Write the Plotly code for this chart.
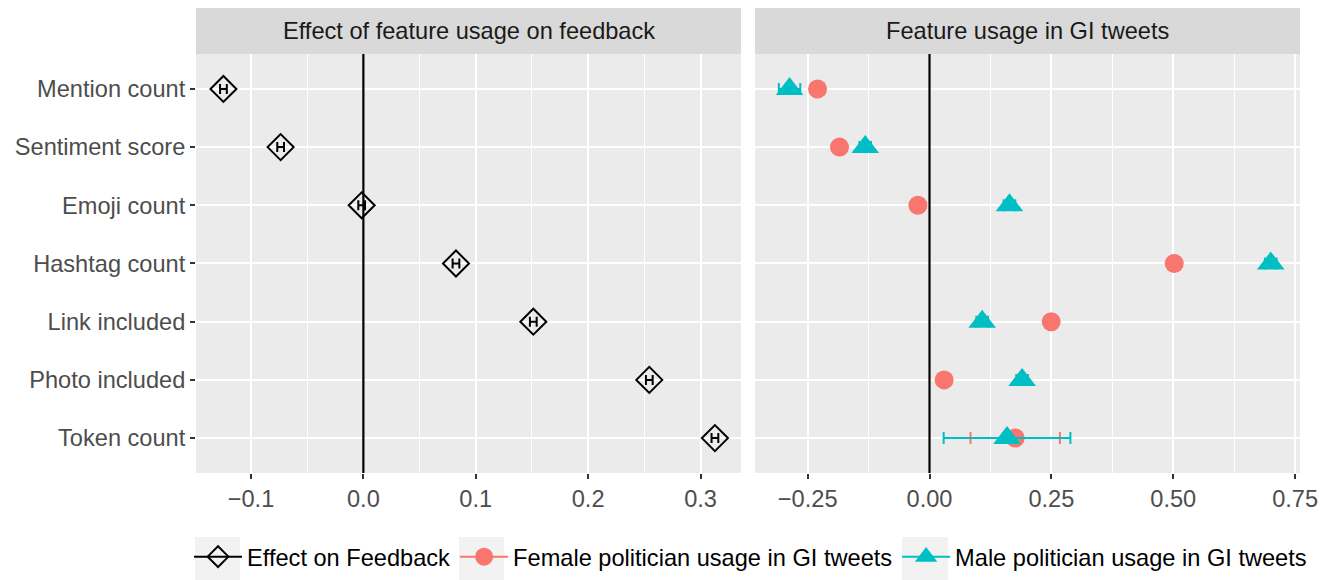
import plotly.graph_objects as go

# Features (top to bottom)
features = ["Mention count", "Sentiment score", "Emoji count", "Hashtag count",
            "Link included", "Photo included", "Token count"]

# Effect of each feature on feedback (estimate and half-width of interval)
effect = [-0.1245, -0.0736, -0.0015, 0.0824, 0.1512, 0.2544, 0.3128]
effect_err = [0.003, 0.003, 0.003, 0.003, 0.003, 0.003, 0.003]

# Feature usage in GI tweets by politician gender
female_usage = [-0.2297, -0.1846, -0.0238, 0.502, 0.2496, 0.030, 0.1758]
female_err = [0.012, 0.010, 0.010, 0.012, 0.012, 0.010, 0.0917]
male_usage = [-0.2871, -0.1319, 0.164, 0.700, 0.108, 0.190, 0.159]
male_err = [0.022, 0.012, 0.012, 0.012, 0.012, 0.012, 0.130]

left_ticks = [-0.1, 0.0, 0.1, 0.2, 0.3]
right_ticks = [-0.25, 0.0, 0.25, 0.50, 0.75]

strip_titles = ["Effect of feature usage on feedback", "Feature usage in GI tweets"]

FEMALE = "#F8766D"
MALE = "#00BFC4"
FONT = "Liberation Sans, Arial, sans-serif"
FS = 23.6

fig = go.Figure()

fig.add_trace(go.Scatter(
    x=effect, y=features, mode="markers", xaxis="x", yaxis="y", showlegend=False,
    marker=dict(symbol="diamond-open", size=20, color="black", line=dict(width=2, color="black")),
    error_x=dict(type="data", array=effect_err, color="black", thickness=2, width=5),
))

fig.add_trace(go.Scatter(
    x=female_usage, y=features, mode="markers", xaxis="x2", yaxis="y2", showlegend=False,
    marker=dict(symbol="circle", size=19, color=FEMALE),
    error_x=dict(type="data", array=female_err, color=FEMALE, thickness=2, width=6),
))
fig.add_trace(go.Scatter(
    x=male_usage, y=features, mode="markers", xaxis="x2", yaxis="y2", showlegend=False,
    marker=dict(symbol="triangle-up", size=24, color=MALE),
    error_x=dict(type="data", array=male_err, color=MALE, thickness=2, width=6),
))

# Legend entries (line + marker keys)
legend_items = [
    ("Effect on Feedback", "diamond-open", "black", 18),
    ("Female politician usage in GI tweets", "circle", FEMALE, 17),
    ("Male politician usage in GI tweets", "triangle-up", MALE, 22),
]
for name, sym, col, sz in legend_items:
    fig.add_trace(go.Scatter(
        x=[None], y=[None], mode="lines+markers", name=name, xaxis="x", yaxis="y",
        line=dict(color=col, width=2),
        marker=dict(symbol=sym, size=sz, color=col, line=dict(width=2, color=col)),
    ))

ydom = [0.18448, 0.90690]
xdom_left = [0.14682, 0.55506]
xdom_right = [0.56554, 0.97378]

axis_common = dict(
    showgrid=True, gridcolor="white", gridwidth=2, zeroline=False, automargin=False,
    ticks="outside", ticklen=5, tickwidth=1.5, tickcolor="#333333",
    tickfont=dict(family=FONT, size=FS, color="#4D4D4D"),
    showline=False,
)
minor = dict(showgrid=True, gridcolor="white", gridwidth=1, ticks="")

fig.update_layout(
    width=1335, height=580, autosize=False,
    margin=dict(l=0, r=0, t=0, b=0),
    paper_bgcolor="white", plot_bgcolor="#EBEBEB",
    font=dict(family=FONT, size=FS, color="black"),
    xaxis=dict(domain=xdom_left, range=[-0.1489, 0.336], tickvals=left_ticks,
               tickformat=".1f", minor=dict(dtick=0.05, tick0=0, **minor),
               anchor="y", **axis_common),
    yaxis=dict(domain=ydom, range=[6.6, -0.6], type="category",
               categoryorder="array", categoryarray=features, anchor="x",
               **axis_common),
    xaxis2=dict(domain=xdom_right, range=[-0.358, 0.760], tickvals=right_ticks,
                tickformat=".2f", minor=dict(dtick=0.125, tick0=0, **minor),
                anchor="y2", **axis_common),
    yaxis2=dict(domain=ydom, range=[6.6, -0.6], type="category",
                categoryorder="array", categoryarray=features, anchor="x2",
                showgrid=True, gridcolor="white", gridwidth=2, zeroline=False,
                automargin=False, showticklabels=False, ticks=""),
    legend=dict(orientation="h", x=0.5622, xanchor="center", y=0.04, yanchor="middle",
                font=dict(family=FONT, size=FS, color="black"),
                bgcolor="rgba(0,0,0,0)", itemwidth=48, tracegroupgap=0),
    showlegend=True,
)

# Reference lines at zero in each panel
for xr, yr in [("x", "y domain"), ("x2", "y2 domain")]:
    fig.add_shape(type="line", xref=xr, yref=yr, x0=0, x1=0, y0=0, y1=1,
                  line=dict(color="black", width=2.2), layer="above")

# Facet strips
for dom, title in zip([xdom_left, xdom_right], strip_titles):
    fig.add_shape(type="rect", xref="paper", yref="paper",
                  x0=dom[0], x1=dom[1], y0=0.90690, y1=0.98621,
                  fillcolor="#D9D9D9", line=dict(width=0), layer="below")
    fig.add_annotation(x=(dom[0] + dom[1]) / 2, y=(0.90690 + 0.98621) / 2,
                       xref="paper", yref="paper", text=title, showarrow=False,
                       font=dict(family=FONT, size=FS, color="#1A1A1A"),
                       xanchor="center", yanchor="middle")

# Light key backgrounds behind the legend symbols
for x0, x1 in [(0.14607, 0.17978), (0.34382, 0.37753), (0.67566, 0.71011)]:
    fig.add_shape(type="rect", xref="paper", yref="paper", x0=x0, x1=x1,
                  y0=0.0, y1=0.0741, fillcolor="#F2F2F2", line=dict(width=0),
                  layer="below")

fig.write_html("out.html", config={"responsive": False})
